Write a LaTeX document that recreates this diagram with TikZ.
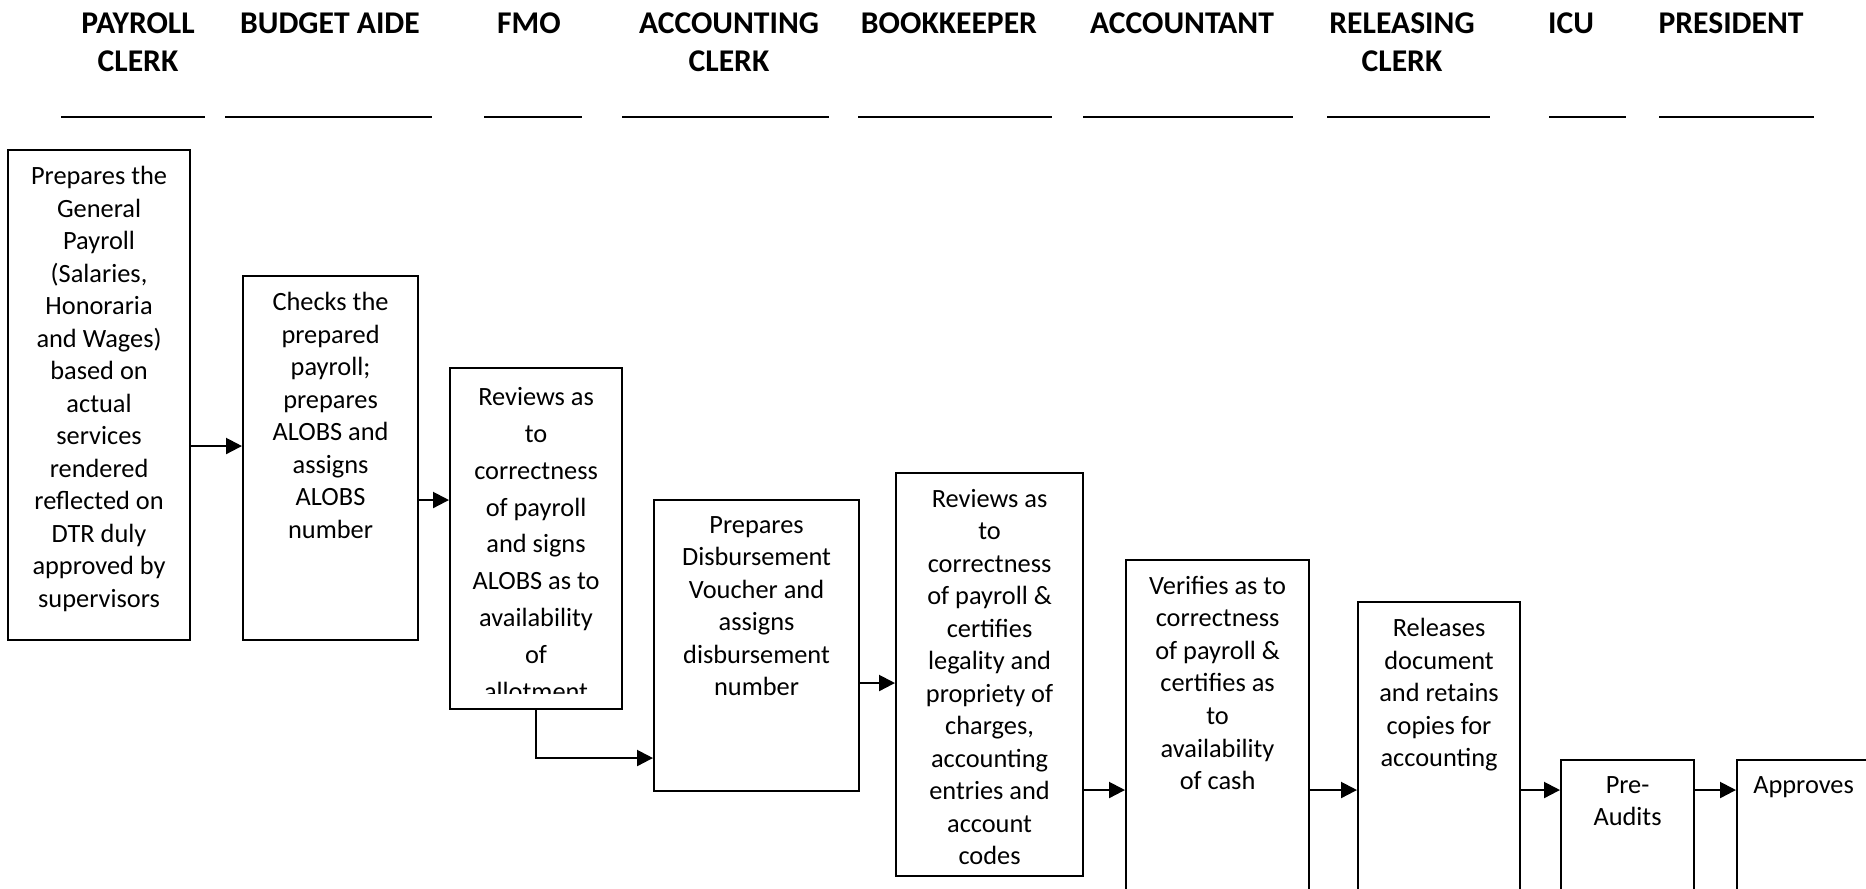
\documentclass[tikz,border=0pt]{standalone}
\usepackage{fontspec}
\setmainfont{Carlito}
\usetikzlibrary{arrows.meta, positioning}
\tikzset{
  blk/.style     = {draw=black, line width=0.6pt, inner sep=0pt, anchor=north west},
  txt/.style     = {align=center, inner sep=0pt, font=\fontsize{7.5pt}{9.25pt}\selectfont},
  txtwide/.style = {txt, font=\fontsize{7.5pt}{10.5pt}\selectfont},
  hd/.style      = {align=center, inner sep=0pt, anchor=north,
                    font=\fontsize{9pt}{10.8pt}\selectfont\bfseries},
  uline/.style   = {line width=0.5pt},
  fl/.style      = {-{Triangle[length=1.6mm, width=1.6mm]}, line width=0.6pt},
}

\begin{document}
\begin{tikzpicture}[x=1mm, y=-1mm]
\useasboundingbox (0,0) rectangle (186.6,88.8);

% column heads
\node[hd] (hpay) at (13.8,1.2)  {PAYROLL\\CLERK};
\node[hd] (hbud) at (33.0,1.2)  {BUDGET AIDE};
\node[hd] (hfmo) at (52.9,1.2)  {FMO};
\node[hd] (hacc) at (72.9,1.2)  {ACCOUNTING\\CLERK};
\node[hd] (hbok) at (94.9,1.2)  {BOOKKEEPER};
\node[hd] (hant) at (118.2,1.2) {ACCOUNTANT};
\node[hd] (hrel) at (140.2,1.2) {RELEASING\\CLERK};
\node[hd] (hicu) at (157.1,1.2) {ICU};
\node[hd] (hpre) at (173.1,1.2) {PRESIDENT};
\foreach \a/\b in {6.1/20.5, 22.5/43.2, 48.4/58.2, 62.2/82.9, 85.8/105.2,
                   108.3/129.3, 132.7/149.0, 154.9/162.6, 165.9/181.4}
  \draw[uline] (\a,11.7) -- (\b,11.7);

% steps
\node[blk, minimum width=18.2mm, minimum height=49mm]   (b1) at (0.7,14.9)   {};
\node[blk, minimum width=17.5mm, minimum height=36.4mm] (b2) at (24.2,27.5)  {};
\node[blk, minimum width=17.2mm, minimum height=34.1mm] (b3) at (44.9,36.7)  {};
\node[blk, minimum width=20.5mm, minimum height=29.1mm] (b4) at (65.3,49.9)  {};
\node[blk, minimum width=18.7mm, minimum height=40.3mm] (b5) at (89.5,47.2)  {};
\node[blk, minimum width=18.3mm, minimum height=36.1mm] (b6) at (112.5,55.9) {};
\node[blk, minimum width=16.2mm, minimum height=31.9mm] (b7) at (135.7,60.1) {};
\node[blk, minimum width=13.3mm, minimum height=16.1mm] (b8) at (156.0,75.9) {};
\node[blk, minimum width=13.3mm, minimum height=16.1mm] (b9) at (173.6,75.9) {};

\node[txt, below=1.65mm of b1.north] (t1) {Prepares the\\General\\Payroll\\(Salaries,\\Honoraria\\and Wages)\\based on\\actual\\services\\rendered\\reflected on\\DTR duly\\approved by\\supervisors};
\node[txt, below=1.65mm of b2.north] (t2) {Checks the\\prepared\\payroll;\\prepares\\ALOBS and\\assigns\\ALOBS\\number};
\begin{scope}
  \clip (b3.north west) rectangle ([yshift=1.7mm]b3.south east);
  \node[txtwide, below=1.95mm of b3.north] (t3) {Reviews as\\to\\correctness\\of payroll\\and signs\\ALOBS as to\\availability\\of\\allotment};
\end{scope}
\node[txt, below=1.65mm of b4.north] (t4) {Prepares\\Disbursement\\Voucher and\\assigns\\disbursement\\number};
\node[txt, below=1.65mm of b5.north] (t5) {Reviews as\\to\\correctness\\of payroll \&\\certifies\\legality and\\propriety of\\charges,\\accounting\\entries and\\account\\codes};
\node[txt, below=1.65mm of b6.north] (t6) {Verifies as to\\correctness\\of payroll \&\\certifies as\\to\\availability\\of cash};
\node[txt, below=1.65mm of b7.north] (t7) {Releases\\document\\and retains\\copies for\\accounting};
\node[txt, below=1.65mm of b8.north] (t8) {Pre-\\Audits};
\node[txt, below=1.65mm of b9.north] (t9) {Approves};

% flow
\coordinate (r12) at (0,44.6);
\coordinate (r23) at (0,50.0);
\coordinate (r34) at (0,75.8);
\coordinate (r45) at (0,68.3);
\coordinate (rlow) at (0,79.0);
\draw[fl] (b1.east |- r12) -- (b2.west |- r12);
\draw[fl] (b2.east |- r23) -- (b3.west |- r23);
\draw[fl] (b3.south) |- (b4.west |- r34);
\draw[fl] (b4.east |- r45) -- (b5.west |- r45);
\draw[fl] (b5.east |- rlow) -- (b6.west |- rlow);
\draw[fl] (b6.east |- rlow) -- (b7.west |- rlow);
\draw[fl] (b7.east |- rlow) -- (b8.west |- rlow);
\draw[fl] (b8.east |- rlow) -- (b9.west |- rlow);
\end{tikzpicture}
\end{document}
